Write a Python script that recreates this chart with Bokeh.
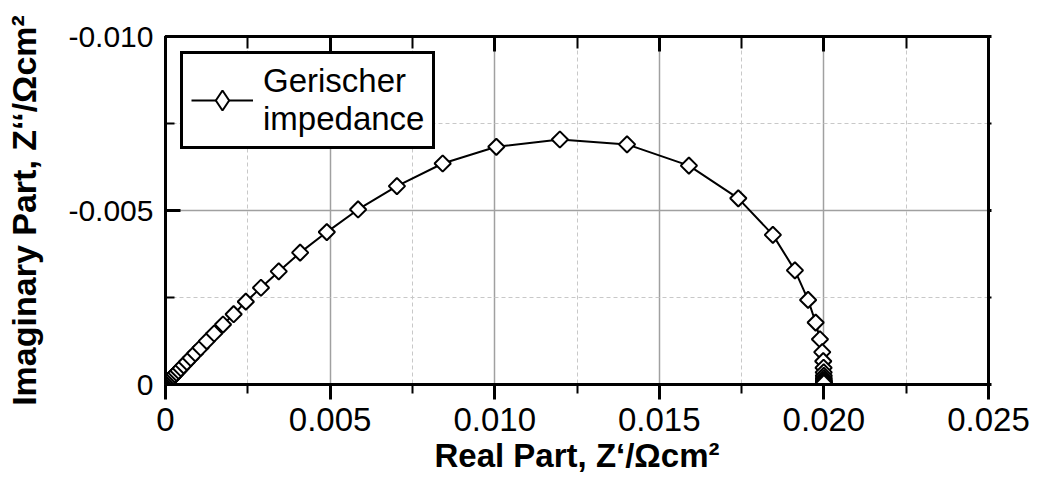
from bokeh.plotting import figure
from bokeh.models import (Range1d, FixedTicker, LinearAxis, Legend, LegendItem,
                          CustomJSTickFormatter, ColumnDataSource)
from bokeh.embed import file_html
from bokeh.resources import INLINE
import math

# Real part Z' (Ohm cm^2) (high to low frequency)
z_real = [0.000077, 0.000090, 0.000106, 0.000125, 0.000148, 0.000174, 0.000205,
          0.000242, 0.000285, 0.000336, 0.000396, 0.000467, 0.000551, 0.000649,
          0.000766, 0.000903, 0.001065, 0.001254, 0.001479, 0.001747, 0.00207,
          0.00244, 0.00290, 0.00344, 0.00409, 0.00490, 0.00585, 0.00703, 0.00842,
          0.01005, 0.01198, 0.01402, 0.01590, 0.01740, 0.01845, 0.01912, 0.01952,
          0.01975, 0.01988, 0.01995, 0.01998, 0.01999, 0.019994, 0.019997,
          0.019998, 0.019999, 0.02, 0.02, 0.02, 0.02]
# Imaginary part Z'' (Ohm cm^2)
z_imag = [-0.000077, -0.000090, -0.000106, -0.000125, -0.000148, -0.000174,
          -0.000205, -0.000242, -0.000285, -0.000335, -0.000395, -0.000466,
          -0.000549, -0.000646, -0.000762, -0.000897, -0.001057, -0.001246,
          -0.001465, -0.001723, -0.00202, -0.00238, -0.00278, -0.00325,
          -0.00379, -0.00438, -0.00503, -0.00570, -0.00635, -0.00683,
          -0.00704, -0.00690, -0.00629, -0.00535, -0.00430, -0.00328,
          -0.00243, -0.00178, -0.00130, -0.000930, -0.000670, -0.000482,
          -0.000348, -0.000250, -0.000180, -0.000130, -0.0000934, -0.0000672,
          -0.0000484, -0.0000348]

x_ticks = [0, 0.005, 0.010, 0.015, 0.020, 0.025]
x_minor = [0.0025, 0.0075, 0.0125, 0.0175, 0.0225]
y_ticks = [0, -0.005, -0.010]
y_minor = [-0.0025, -0.0075]

FONT = "Liberation Sans"

p = figure(width=1045, height=490, output_backend="svg", toolbar_location=None,
           x_range=Range1d(0, 0.025), y_range=Range1d(0, -0.010),
           min_border_left=165, min_border_right=57, min_border_top=36,
           min_border_bottom=106)
p.background_fill_color = "white"
p.border_fill_color = "white"
p.outline_line_color = "black"
p.outline_line_width = 3

xt = FixedTicker(ticks=x_ticks, minor_ticks=x_minor)
yt = FixedTicker(ticks=y_ticks, minor_ticks=y_minor)
fmt = CustomJSTickFormatter(code="return Math.abs(tick) < 1e-12 ? '0' : tick.toFixed(3);")

for ax in p.xaxis + p.yaxis:
    ax.axis_line_width = 3
    ax.major_tick_line_width = 3
    ax.minor_tick_line_width = 2
    ax.major_label_text_font = FONT
    ax.major_label_text_color = "black"
    ax.axis_label_text_font = FONT
    ax.axis_label_text_font_style = "bold"
    ax.axis_label_text_color = "black"
    ax.formatter = fmt

p.xaxis.ticker = xt
p.xaxis.major_tick_out = 15
p.xaxis.major_tick_in = 0
p.xaxis.minor_tick_out = 9
p.xaxis.minor_tick_in = 0
p.xaxis.major_label_standoff = 8
p.xaxis.major_label_text_font_size = "33px"
p.xaxis.axis_label = "Real Part, Z\u2018/\u03a9cm\u00b2"
p.xaxis.axis_label_text_font_size = "33px"
p.xaxis.axis_label_standoff = 3

p.yaxis.ticker = yt
p.yaxis.major_tick_out = 0
p.yaxis.major_tick_in = 15
p.yaxis.minor_tick_out = 0
p.yaxis.minor_tick_in = 9
p.yaxis.major_label_standoff = 12
p.yaxis.major_label_text_font_size = "30px"
p.yaxis.axis_label = "Imaginary Part, Z\u2018\u2018/\u03a9cm\u00b2"
p.yaxis.axis_label_text_font_size = "34px"
p.yaxis.axis_label_standoff = 22

top = LinearAxis(ticker=xt, major_label_text_font_size="0px", major_label_text_color=None,
                 major_label_standoff=0,
                 major_tick_in=15, major_tick_out=0, minor_tick_in=12, minor_tick_out=0,
                 axis_line_width=3, major_tick_line_width=3, minor_tick_line_width=2)
right = LinearAxis(ticker=yt, major_label_text_font_size="0px", major_label_text_color=None,
                   major_label_standoff=0,
                   major_tick_in=0, major_tick_out=3, minor_tick_in=0, minor_tick_out=3,
                   axis_line_width=3, major_tick_line_width=3, minor_tick_line_width=2)
p.add_layout(top, "above")
p.add_layout(right, "right")

p.xgrid.ticker = xt
p.ygrid.ticker = yt
for g in (p.xgrid[0], p.ygrid[0]):
    g.grid_line_color = "#a0a0a0"
    g.grid_line_width = 1.5
    g.minor_grid_line_color = "#c8c8c8"
    g.minor_grid_line_width = 1
    g.minor_grid_line_dash = "4 3"

src = ColumnDataSource(data=dict(x=z_real, y=z_imag))
ln = p.line("x", "y", source=src, line_color="black", line_width=2)
sc = p.scatter("x", "y", source=src, marker="square", size=11.5, angle=math.pi / 4,
               fill_color="white", line_color="black", line_width=2)
# legend-only marker (the legend draws markers unrotated)
leg_src = ColumnDataSource(data=dict(x=z_real[:1], y=z_imag[:1]))
leg_sc = p.scatter("x", "y", source=leg_src, marker="diamond", size=18,
                   fill_color="white", line_color="black", line_width=2, visible=False)

legend = Legend(items=[LegendItem(label="Gerischer\nimpedance", renderers=[ln, leg_sc])],
                location="top_left", margin=15, padding=8, spacing=0,
                border_line_color="black", border_line_width=3, border_line_alpha=1,
                background_fill_color="white", background_fill_alpha=1,
                label_text_font=FONT, label_text_font_size="33px",
                label_text_color="black", glyph_width=62, glyph_height=50,
                label_standoff=10, click_policy="none")
p.add_layout(legend)

open("out.html", "w").write(file_html(p, INLINE))
